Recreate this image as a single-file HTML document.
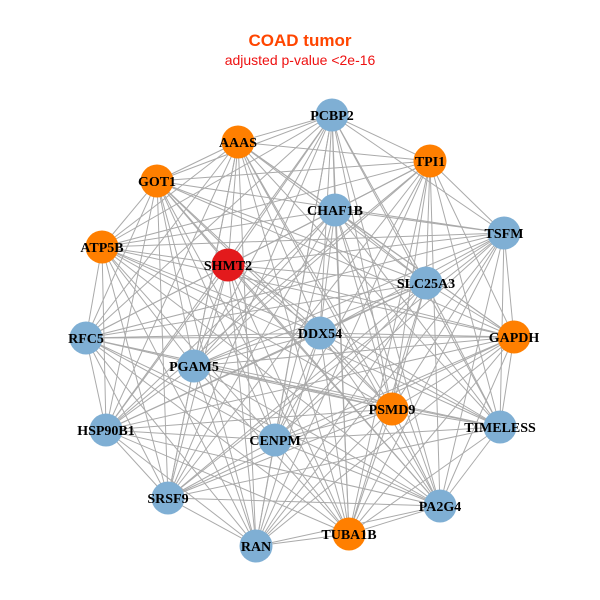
<!DOCTYPE html>
<html><head><meta charset="utf-8"><style>
html,body{margin:0;padding:0;background:#fff;}
svg{display:block;}
</style></head><body>
<svg id="s" width="600" height="600" xmlns="http://www.w3.org/2000/svg">
<rect width="600" height="600" fill="#fff"/>
<text x="300" y="46" text-anchor="middle" font-family="Liberation Sans, sans-serif" font-weight="bold" font-size="17" fill="#ff4500">COAD tumor</text>
<text x="300" y="65" text-anchor="middle" font-family="Liberation Sans, sans-serif" font-size="14" fill="#ee1111">adjusted p-value &lt;2e-16</text>
<g id="e" stroke="#aaaaaa" stroke-width="1"></g>
<g id="n"></g>
<g id="t" font-family="Liberation Serif, serif" font-weight="bold" font-size="14" text-anchor="middle" fill="#000"></g>
</svg>
<script>
var N=[["PCBP2",332,115,"b"],["AAAS",238,142,"o"],["TPI1",430,161,"o"],["GOT1",157,181,"o"],["CHAF1B",335,210,"b"],["TSFM",504,233,"b"],["ATP5B",102,247,"o"],["SHMT2",228,265,"r"],["SLC25A3",426,283,"b"],["RFC5",86,338,"b"],["DDX54",320,333,"b"],["GAPDH",514,337,"o"],["PGAM5",194,366,"b"],["PSMD9",392,409,"o"],["HSP90B1",106,430,"b"],["TIMELESS",500,427,"b"],["CENPM",275,440,"b"],["SRSF9",168,498,"b"],["PA2G4",440,506,"b"],["TUBA1B",349,534,"o"],["RAN",256,546,"b"]];
var C={b:"#7fafd4",o:"#ff7f00",r:"#e31a1c"};
var ns="http://www.w3.org/2000/svg",e=document.getElementById("e"),n=document.getElementById("n"),t=document.getElementById("t");
for(var i=0;i<N.length;i++)for(var j=i+1;j<N.length;j++){
 if((i*7+j*3)%11==0)continue;
 var l=document.createElementNS(ns,"line");
 l.setAttribute("x1",N[i][1]);l.setAttribute("y1",N[i][2]);l.setAttribute("x2",N[j][1]);l.setAttribute("y2",N[j][2]);e.appendChild(l);}
N.forEach(function(d){
 var c=document.createElementNS(ns,"circle");c.setAttribute("cx",d[1]);c.setAttribute("cy",d[2]);c.setAttribute("r",16.5);c.setAttribute("fill",C[d[3]]);n.appendChild(c);
 var x=document.createElementNS(ns,"text");x.setAttribute("x",d[1]);x.setAttribute("y",d[2]+5);x.textContent=d[0];t.appendChild(x);});
</script>
</body></html>
